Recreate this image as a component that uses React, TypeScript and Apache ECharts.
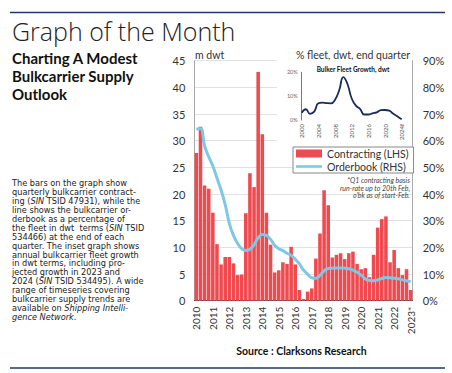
import React, { useEffect, useRef } from 'react';
import * as echarts from 'echarts';

const FONT = 'Lato, "Open Sans", "DejaVu Sans", sans-serif';
const BODY_FONT = '"DejaVu Sans", Lato, sans-serif';
const TITLE_FONT = '"Open Sans", Lato, sans-serif';

// Main chart: quarterly contracting (m dwt) and orderbook (% fleet)
const yearLabels = ['2010', '2011', '2012', '2013', '2014', '2015', '2016', '2017', '2018', '2019', '2020', '2021', '2022', '2023*'];
const quarterCats: string[] = [];
yearLabels.forEach((y, i) => {
  const n = i === yearLabels.length - 1 ? 1 : 4;
  for (let q = 1; q <= n; q++) quarterCats.push(y + ' Q' + q);
});

const contracting = [
  27.7, 32.6, 21.6, 21.0,
  16.5, 10.6, 6.8, 8.2,
  8.2, 7.0, 4.8, 4.9,
  16.4, 23.9, 21.3, 42.9,
  31.2, 16.5, 10.5, 5.3,
  5.7, 7.2, 6.9, 10.1,
  6.8, 2.0, 0.3, 1.7,
  2.3, 7.9, 12.6, 20.7,
  17.9, 8.1, 8.6, 8.9,
  7.8, 8.9, 9.2, 6.9,
  5.9, 6.1, 4.4, 8.6,
  13.7, 15.3, 15.8, 7.2,
  9.5, 6.1, 4.8, 5.9,
  2.0,
];

const orderbook = [
  64.4, 64.5, 58, 54,
  50.5, 46, 41.5, 36,
  29, 24.5, 21.5, 19.5,
  18.8, 19.3, 21, 23.5,
  24.8, 24.5, 23, 20.8,
  19.5, 18.8, 17.8, 17,
  15.5, 13.8, 11.5, 10,
  8.6, 8.4, 9.5, 11.2,
  12.1, 12.2, 12.3, 12.3,
  12.2, 12.0, 11.5, 10.7,
  9.6, 8.2, 7.6, 7.5,
  7.8, 8.3, 8.7, 8.6,
  8.4, 8.2, 7.8, 7.5,
  7.1,
];

// Inset: annual bulker fleet growth (% dwt)
const insetYears = ['2000', '2001', '2002', '2003', '2004', '2005', '2006', '2007', '2008', '2009', '2010', '2011', '2012', '2013', '2014', '2015', '2016', '2017', '2018', '2019', '2020', '2021', '2022', '2023', '2024f'];
const fleetGrowth = [3.0, 4.5, 2.6, 3.5, 7.0, 7.3, 7.1, 7.0, 8.5, 12.5, 18.0, 15.0, 9.0, 6.0, 4.7, 2.3, 2.3, 2.8, 3.2, 4.1, 4.2, 3.9, 2.6, 1.5, 0.3];

const paragraph = [
  'The bars on the graph show',
  'quarterly bulkcarrier contract-',
  'ing ({i|SIN} TSID 47931), while the',
  'line shows the bulkcarrier or-',
  'derbook as a percentage of',
  'the fleet in dwt  terms ({i|SIN} TSID',
  '534466) at the end of each',
  'quarter. The inset graph shows',
  'annual bulkcarrier fleet growth',
  'in dwt terms, including pro-',
  'jected growth in 2023 and',
  '2024 ({i|SIN} TSID 534495). A wide',
  'range of timeseries covering',
  'bulkcarrier supply trends are',
  'available on {i|Shipping Intelli-}',
  '{i|gence Network}.',
];

const noteLines = ['*Q1 contracting basis', 'run-rate up to 20th Feb,', "o'bk as of start-Feb."];

function txt(text: string, x: number, y: number, size: number, opts: any = {}) {
  const align = opts.align || 'left';
  return {
    type: 'text',
    z: opts.z ?? 10,
    style: {
      text,
      x,
      y,
      fill: opts.fill || '#222',
      fontSize: size,
      fontFamily: opts.fontFamily || FONT,
      fontWeight: opts.fontWeight || 'normal',
      fontStyle: opts.fontStyle || 'normal',
      align,
      textAlign: align,
      verticalAlign: 'middle',
      textVerticalAlign: 'middle',
      rich: opts.rich,
    },
  };
}

export default function App() {
  const ref = useRef<HTMLDivElement>(null);
  useEffect(() => {
    if (!ref.current) return;
    const chart = echarts.init(ref.current, undefined, { renderer: 'svg' });
    const bodySize = 8.2;
    const richItalic = {
      i: { fontStyle: 'italic', fontSize: bodySize, fontFamily: BODY_FONT, fill: '#222' },
    };
    const graphics: any[] = [
      { type: 'line', z: 10, shape: { x1: 10, y1: 12.5, x2: 445, y2: 12.5 }, style: { stroke: '#1f3864', lineWidth: 1.6 } },
      { type: 'line', z: 10, shape: { x1: 10, y1: 368, x2: 445, y2: 368 }, style: { stroke: '#1f3864', lineWidth: 1.6 } },
      txt('Graph of the Month', 12, 31, 25, { fontWeight: 300, fill: '#222', fontFamily: TITLE_FONT }),
      txt('Charting A Modest', 12, 57.5, 15, { fontWeight: 'bold', fill: '#111' }),
      txt('Bulkcarrier Supply', 12, 75.5, 15, { fontWeight: 'bold', fill: '#111' }),
      txt('Outlook', 12, 93.5, 15, { fontWeight: 'bold', fill: '#111' }),
      txt('m dwt', 195, 55, 10.5, { fill: '#333' }),
      txt('% fleet, dwt, end quarter', 410, 55, 10.5, { fill: '#333', align: 'right' }),
      { type: 'rect', z: 1, shape: { x: 277, y: 58, width: 135, height: 84 }, style: { fill: '#ffffff' } },
      txt('Bulker Fleet Growth, dwt', 353, 69.5, 6.5, { fontWeight: 'bold', fill: '#111', align: 'center' }),
      txt('Source : Clarksons Research', 301.5, 351, 10.5, { fontWeight: 'bold', fill: '#111', align: 'center' }),
    ];
    paragraph.forEach((line, i) => {
      graphics.push(txt(line, 12, 183.3 + i * 8.9, bodySize, { fill: '#222', rich: richItalic, fontFamily: BODY_FONT }));
    });
    noteLines.forEach((line, i) => {
      graphics.push(txt(line, 410, 180 + i * 7.6, 7, { fill: '#444', fontStyle: 'italic', align: 'right' }));
    });

    chart.setOption({
      animation: false,
      textStyle: { fontFamily: FONT },
      grid: [
        { left: 194.3, right: 39.3, top: 60.7, bottom: 72.3 },
        { left: 301.7, right: 50.3, top: 72.3, bottom: 253 },
      ],
      legend: {
        data: [
          { name: 'Contracting (LHS)', icon: 'rect' },
          { name: 'Orderbook (RHS)', icon: 'path://M0,0L30,0L30,3L0,3Z' },
        ],
        orient: 'vertical',
        left: 293,
        top: 147,
        itemWidth: 26,
        itemHeight: 8,
        itemGap: 2,
        padding: [1, 5, 1, 3],
        backgroundColor: '#fff',
        borderColor: '#888',
        borderWidth: 1,
        textStyle: { fontSize: 10.5, color: '#333', fontFamily: FONT },
        z: 10,
      },
      xAxis: [
        {
          type: 'category',
          gridIndex: 0,
          data: quarterCats,
          axisTick: { show: false },
          axisLine: { lineStyle: { color: '#444', width: 1 } },
          axisLabel: {
            interval: 3,
            rotate: 90,
            fontSize: 10,
            color: '#333',
            margin: 6,
            formatter: (_v: string, idx: number) => yearLabels[Math.floor(idx / 4)],
          },
        },
        {
          type: 'category',
          gridIndex: 1,
          data: insetYears,
          boundaryGap: false,
          z: 5,
          axisTick: { show: false },
          axisLine: { show: false },
          axisLabel: { interval: 3, rotate: 90, fontSize: 6, color: '#555', margin: 4 },
        },
      ],
      yAxis: [
        {
          type: 'value',
          gridIndex: 0,
          min: 0,
          max: 45,
          interval: 5,
          axisLine: { show: true, lineStyle: { color: '#aaa' } },
          axisTick: { show: false },
          splitLine: { lineStyle: { color: '#e2e2e2' } },
          axisLabel: { fontSize: 11, color: '#333', margin: 9 },
        },
        {
          type: 'value',
          gridIndex: 0,
          position: 'right',
          min: 0,
          max: 90,
          interval: 10,
          axisLine: { show: true, lineStyle: { color: '#aaa' } },
          axisTick: { show: false },
          splitLine: { show: false },
          axisLabel: { fontSize: 11, color: '#333', margin: 10, formatter: '{value}%' },
        },
        {
          type: 'value',
          gridIndex: 1,
          min: 0,
          max: 20,
          interval: 10,
          z: 5,
          axisLine: { show: true, lineStyle: { color: '#555', width: 0.8 } },
          axisTick: { show: false },
          splitLine: { show: false },
          axisLabel: { fontSize: 5.5, color: '#666', margin: 4, formatter: '{value}%' },
        },
      ],
      series: [
        {
          type: 'bar',
          name: 'Contracting (LHS)',
          xAxisIndex: 0,
          yAxisIndex: 0,
          data: contracting,
          barCategoryGap: '14%',
          itemStyle: { color: '#ee4a4f' },
          z: 2,
        },
        {
          type: 'line',
          name: 'Orderbook (RHS)',
          xAxisIndex: 0,
          yAxisIndex: 1,
          data: orderbook,
          smooth: true,
          symbol: 'none',
          lineStyle: { color: '#7ec8e6', width: 3 },
          itemStyle: { color: '#7ec8e6' },
          z: 3,
        },
        {
          type: 'line',
          name: 'Fleet Growth',
          xAxisIndex: 1,
          yAxisIndex: 2,
          data: fleetGrowth,
          smooth: true,
          symbol: 'none',
          lineStyle: { color: '#1b2a5c', width: 1.8 },
          z: 6,
        },
      ],
      graphic: graphics,
    });
    return () => chart.dispose();
  }, []);
  return <div ref={ref} style={{ position: 'fixed', left: 0, top: 0, width: 452, height: 373, background: '#fff' }} />;
}
